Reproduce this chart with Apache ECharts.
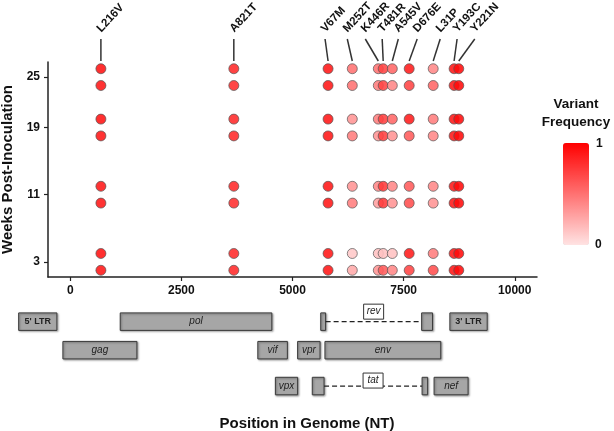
<!DOCTYPE html>
<html><head><meta charset="utf-8">
<script src="https://cdn.jsdelivr.net/npm/echarts@6/dist/echarts.min.js"></script>
<style>html,body{margin:0;padding:0;background:#fff}#c{width:614px;height:431px}</style>
</head><body><div id="c"></div>
<script>
// ---------- DATA ----------
const mutations = ['L216V','A821T','V67M','M252T','K446R','T481R','A545V','D676E','L31P','Y193C','Y221N'];
const mutationPositions = [690, 3680, 5800, 6345, 6930, 7040, 7245, 7625, 8165, 8635, 8740];
// sample rows (two per time point), top to bottom
const sampleRows = [26, 24, 20, 18, 12, 10, 4, 2];
const weekTicks = [3, 11, 19, 25];
const positionTicks = [0, 2500, 5000, 7500, 10000];
// variant frequency per mutation, rows top to bottom
const freqL216V = [0.92, 0.9, 0.92, 0.9, 0.9, 0.9, 0.92, 0.9];
const freqA821T = [0.82, 0.8, 0.82, 0.82, 0.82, 0.8, 0.82, 0.82];
const freqV67M  = [0.9, 0.9, 0.9, 0.9, 0.9, 0.9, 0.9, 0.9];
const freqM252T = [0.5, 0.5, 0.35, 0.45, 0.35, 0.45, 0.12, 0.25];
const freqK446R = [0.5, 0.45, 0.45, 0.35, 0.4, 0.3, 0.15, 0.35];
const freqT481R = [0.7, 0.7, 0.72, 0.72, 0.75, 0.75, 0.15, 0.6];
const freqA545V = [0.55, 0.4, 0.55, 0.35, 0.4, 0.35, 0.15, 0.4];
const freqD676E = [0.88, 0.7, 0.88, 0.6, 0.6, 0.65, 0.88, 0.7];
const freqL31P  = [0.4, 0.55, 0.45, 0.4, 0.4, 0.35, 0.45, 0.65];
const freqY193C = [0.9, 0.9, 0.9, 0.9, 0.9, 0.9, 0.9, 0.9];
const freqY221N = [0.95, 0.95, 0.95, 0.95, 0.95, 0.95, 0.95, 0.95];
const frequencies = [freqL216V, freqA821T, freqV67M, freqM252T, freqK446R, freqT481R, freqA545V, freqD676E, freqL31P, freqY193C, freqY221N];

// genome map
const geneNames  = ["5' LTR", 'pol', 'rev', "3' LTR", 'gag', 'vif', 'vpr', 'env', 'vpx', 'tat', 'nef'];
const geneTracks = [1, 1, 1, 1, 2, 2, 2, 2, 3, 3, 3];
const geneExons  = [
  [[-1160, -300]], [[1125, 4535]], [[5635, 5745], [7905, 8150]], [[8540, 9380]],
  [[-165, 1500]], [[4220, 4885]], [[5115, 5620]], [[5730, 8335]],
  [[4615, 5115]], [[5445, 5710], [7915, 8040]], [[8185, 8950]]
];

// ---------- LAYOUT / STYLE ----------
const FONT = '"Liberation Sans", Arial, sans-serif';
const X_MIN = -500, X_MAX = 10500, Y_MIN = 1.2, Y_MAX = 26.8;
const labelShift = [0, 0, -3, -5, -13, -1, 6, 8, 7, 3, 16];
const trackY = {1: 0.6, 2: 1.57, 3: 2.79};
const spliceLabelRaise = {rev: 2.5, tat: -2};
const BOX_H = 17.5;

const dots = [];
mutations.forEach((m, i) => {
  sampleRows.forEach((r, j) => dots.push([mutationPositions[i], r, frequencies[i][j]]));
});

const chart = echarts.init(document.getElementById('c'), null, {renderer: 'canvas'});
chart.setOption({
  animation: false,
  backgroundColor: '#fff',
  textStyle: {fontFamily: FONT},
  grid: [
    {left: 48, right: 77, top: 62, bottom: 154, outerBoundsMode: 'none', containLabel: false},
    {left: 48, right: 77, top: 304, height: 100, outerBoundsMode: 'none', containLabel: false}
  ],
  xAxis: [{
    gridIndex: 0, type: 'value', min: X_MIN, max: X_MAX,
    axisLine: {show: true, onZero: false, lineStyle: {color: '#222', width: 1.5}},
    axisTick: {show: true, customValues: positionTicks, length: 4, lineStyle: {color: '#222', width: 1.2}},
    axisLabel: {customValues: positionTicks, formatter: v => String(v), color: '#111', fontWeight: 'bold', fontSize: 12, margin: 8, fontFamily: FONT},
    splitLine: {show: false}
  }, {
    gridIndex: 1, type: 'value', min: X_MIN, max: X_MAX, show: false
  }],
  yAxis: [{
    gridIndex: 0, type: 'value', min: Y_MIN, max: Y_MAX,
    name: 'Weeks Post-Inoculation', nameLocation: 'middle', nameGap: 31,
    nameTextStyle: {fontWeight: 'bold', fontSize: 15, color: '#111', fontFamily: FONT},
    axisLine: {show: true, onZero: false, lineStyle: {color: '#222', width: 1.5}},
    axisTick: {show: true, customValues: weekTicks, length: 4, lineStyle: {color: '#222', width: 1.2}},
    axisLabel: {customValues: weekTicks, formatter: v => String(v), color: '#111', fontWeight: 'bold', fontSize: 12, margin: 8, fontFamily: FONT},
    splitLine: {show: false}
  }, {
    gridIndex: 1, type: 'value', min: 0, max: 3.4, inverse: true, show: false
  }],
  visualMap: {
    type: 'continuous', min: 0, max: 1, dimension: 2, seriesIndex: 0,
    orient: 'vertical', left: 548, top: 128, itemWidth: 26, itemHeight: 102,
    calculable: false, text: null, showLabel: false,
    inRange: {color: ['#ffe3e3', '#ff0000']}
  },
  title: {
    text: 'Position in Genome (NT)', left: 302, top: 411, textAlign: 'center',
    textStyle: {fontWeight: 'bold', fontSize: 15, color: '#111', fontFamily: FONT}
  },
  graphic: [
    {type: 'text', x: 576, y: 104, style: {text: 'Variant', font: 'bold 13.5px ' + FONT, fill: '#111', align: 'center', verticalAlign: 'middle'}},
    {type: 'text', x: 576, y: 122, style: {text: 'Frequency', font: 'bold 13.5px ' + FONT, fill: '#111', align: 'center', verticalAlign: 'middle'}},
    {type: 'text', x: 596, y: 144, style: {text: '1', font: 'bold 12px ' + FONT, fill: '#111', verticalAlign: 'middle'}},
    {type: 'text', x: 595, y: 245, style: {text: '0', font: 'bold 12px ' + FONT, fill: '#111', verticalAlign: 'middle'}}
  ],
  series: [{
    type: 'scatter', xAxisIndex: 0, yAxisIndex: 0,
    data: dots, symbolSize: 10,
    itemStyle: {borderColor: '#555', borderWidth: 0.8, opacity: 0.88},
    z: 3
  }, {
    type: 'custom', xAxisIndex: 0, yAxisIndex: 0, clip: false,
    data: mutationPositions.map((p, i) => [p, i]),
    renderItem(params, api) {
      const i = api.value(1);
      const base = api.coord([api.value(0), Y_MAX]);
      const x0 = base[0], y0 = base[1] - 1;
      const x1 = x0 + labelShift[i], y1 = base[1] - 23;
      return {type: 'group', children: [
        {type: 'line', shape: {x1: x0, y1: y0, x2: x1, y2: y1}, style: {stroke: '#333', lineWidth: 1.5}},
        {type: 'text', x: x1 - 2, y: y1 - 8.5, rotation: 47 * Math.PI / 180,
          style: {text: mutations[i], font: 'bold 11.5px ' + FONT, fill: '#111', align: 'left', verticalAlign: 'middle'}}
      ]};
    }
  }, {
    type: 'custom', xAxisIndex: 1, yAxisIndex: 1, clip: false,
    data: geneNames.map((n, i) => [geneExons[i][0][0], trackY[geneTracks[i]], i]),
    renderItem(params, api) {
      const i = api.value(2);
      const ty = trackY[geneTracks[i]];
      const exons = geneExons[i];
      const name = geneNames[i];
      const isLTR = name.indexOf('LTR') >= 0;
      const children = [];
      const rects = exons.map(e => {
        const a = api.coord([e[0], ty]), b = api.coord([e[1], ty]);
        return {x: a[0], y: a[1] - BOX_H / 2, width: b[0] - a[0], height: BOX_H, cy: a[1]};
      });
      rects.forEach(r => children.push({type: 'rect', shape: {x: r.x, y: r.y, width: r.width, height: r.height},
        style: {fill: '#a6a6a6', stroke: '#3a3a3a', lineWidth: 1, shadowBlur: 2, shadowOffsetX: 1, shadowOffsetY: 1, shadowColor: 'rgba(0,0,0,0.35)'}}));
      if (rects.length === 1) {
        const r = rects[0];
        children.push({type: 'text', x: r.x + r.width / 2, y: r.cy,
          style: {text: name, font: (isLTR ? 'bold 9px ' : 'italic 10px ') + FONT, fill: '#222', align: 'center', verticalAlign: 'middle'}});
      } else {
        const r0 = rects[0], r1 = rects[1];
        const lx0 = r0.x + r0.width, lx1 = r1.x, cy = r0.cy;
        children.push({type: 'line', shape: {x1: lx0, y1: cy, x2: lx1, y2: cy}, style: {stroke: '#222', lineWidth: 1.2, lineDash: [5, 3]}});
        const mx = (lx0 + lx1) / 2;
        const bottom = cy - (spliceLabelRaise[name] || 0);
        children.push({type: 'rect', shape: {x: mx - 10, y: bottom - 15, width: 20, height: 15}, style: {fill: '#fff', stroke: '#333', lineWidth: 1}});
        children.push({type: 'text', x: mx, y: bottom - 7.5, style: {text: name, font: 'italic 10px ' + FONT, fill: '#222', align: 'center', verticalAlign: 'middle'}});
      }
      return {type: 'group', children};
    }
  }]
});
</script>
</body></html>
